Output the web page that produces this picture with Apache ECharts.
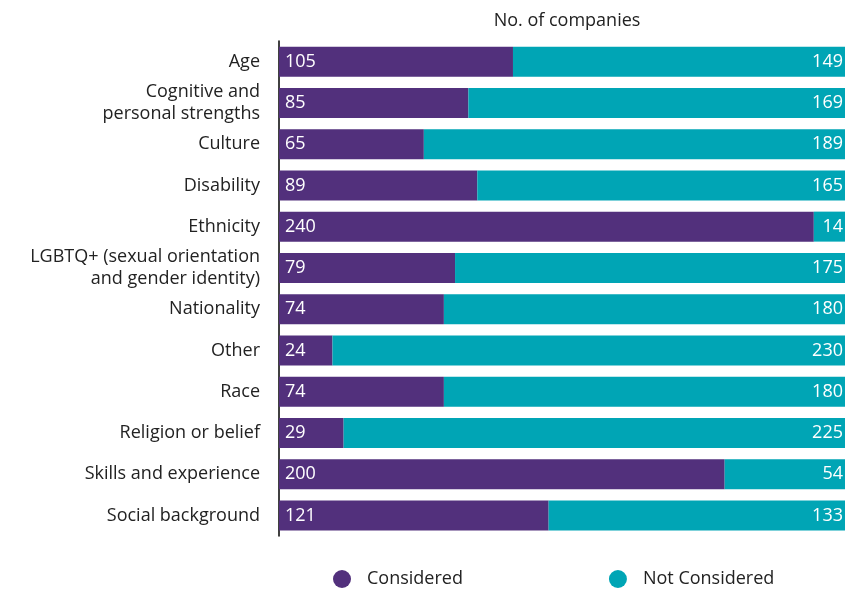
<!DOCTYPE html>
<html><head><meta charset="utf-8">
<script src="https://cdn.jsdelivr.net/npm/echarts@6/dist/echarts.min.js"></script>
<style>html,body{margin:0;padding:0;background:#fff}#c{width:845px;height:589px}</style>
</head><body><div id="c"></div>
<script>
const categories = ["Age","Cognitive and\npersonal strengths","Culture","Disability","Ethnicity","LGBTQ+ (sexual orientation\nand gender identity)","Nationality","Other","Race","Religion or belief","Skills and experience","Social background"];
const considered = [105,85,65,89,240,79,74,24,74,29,200,121];
const notConsidered = [149,169,189,165,14,175,180,230,180,225,54,133];
const seriesNames = ["Considered","Not Considered"];
const axisTitle = "No. of companies";

const FONT = "Open Sans";
const FS = 18;
const chart = echarts.init(document.getElementById('c'));
chart.setOption({
  animation:false,
  textStyle:{fontFamily:FONT},
  title:{text:axisTitle,left:562,top:7,textAlign:'center',textStyle:{fontFamily:FONT,fontSize:FS,fontWeight:'normal',color:'#222'}},
  grid:{left:279,right:0,top:41,bottom:53},
  xAxis:{type:'value',min:0,max:254,show:false},
  yAxis:{type:'category',data:categories,inverse:true,
    axisLine:{show:true,lineStyle:{color:'#000',width:1.5}},axisTick:{show:false},
    axisLabel:{fontFamily:FONT,fontSize:FS,color:'#222',margin:19,lineHeight:22,align:'right'}},
  legend:{top:570,left:333,padding:0,itemGap:146,itemWidth:18,itemHeight:18,icon:'circle',
    textStyle:{fontFamily:FONT,fontSize:FS,color:'#222',padding:[0,0,0,11]},data:seriesNames},
  series:[
    {name:seriesNames[0],type:'bar',stack:'s',data:considered,barWidth:30,itemStyle:{color:'#52307C'},
     label:{show:true,position:'insideLeft',color:'#fff',fontSize:FS,fontFamily:FONT,offset:[1,0]}},
    {name:seriesNames[1],type:'bar',stack:'s',data:notConsidered,barWidth:30,itemStyle:{color:'#00A5B5'},
     label:{show:true,position:'insideRight',color:'#fff',fontSize:FS,fontFamily:FONT,distance:2}}
  ]
});
</script></body></html>
